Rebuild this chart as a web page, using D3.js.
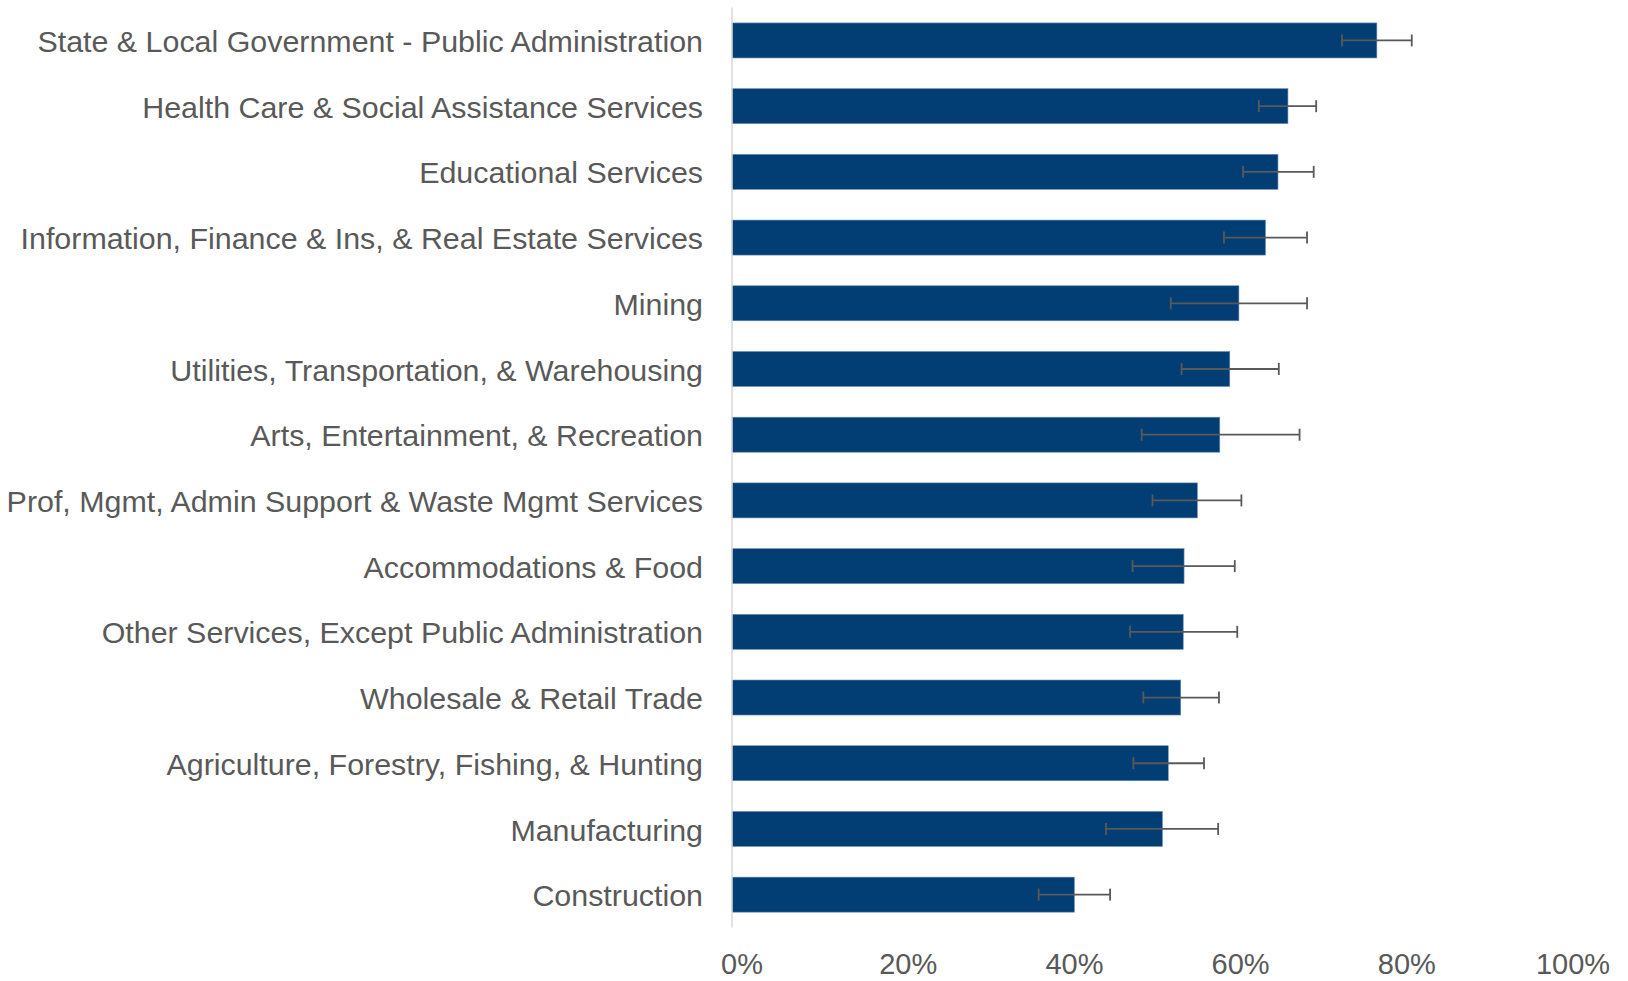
<!DOCTYPE html>
<html>
<head>
<meta charset="utf-8">
<script src="https://cdn.jsdelivr.net/npm/d3@7"></script>
<style>
  html, body { margin: 0; padding: 0; background: #fff; }
  svg text { font-family: "Liberation Sans", Arial, sans-serif; fill: #595959; }
</style>
</head>
<body>
<div id="chart"></div>
<script>
const industries = [
    "State & Local Government - Public Administration",
    "Health Care & Social Assistance Services",
    "Educational Services",
    "Information, Finance & Ins, & Real Estate Services",
    "Mining",
    "Utilities, Transportation, & Warehousing",
    "Arts, Entertainment, & Recreation",
    "Prof, Mgmt, Admin Support & Waste Mgmt Services",
    "Accommodations & Food",
    "Other Services, Except Public Administration",
    "Wholesale & Retail Trade",
    "Agriculture, Forestry, Fishing, & Hunting",
    "Manufacturing",
    "Construction"
]
const shares  = [0.776, 0.669, 0.657, 0.642, 0.610, 0.599, 0.587, 0.560, 0.544, 0.543, 0.540, 0.525, 0.518, 0.412]
const errLow  = [0.734, 0.634, 0.615, 0.592, 0.528, 0.541, 0.493, 0.506, 0.482, 0.479, 0.495, 0.483, 0.450, 0.369]
const errHigh = [0.818, 0.703, 0.700, 0.692, 0.692, 0.658, 0.683, 0.613, 0.605, 0.608, 0.586, 0.568, 0.585, 0.455]
const xTicks  = [0, 0.2, 0.4, 0.6, 0.8, 1.0]

const W = 1628, H = 981
const plot = { left: 732, right: 1563, top: 7.6, bottom: 927.5 }

const rows = industries.map((name, i) => ({name, v: shares[i], lo: errLow[i], hi: errHigh[i]}))

const svg = d3.select("#chart")
    .append("svg")
    .attr("width", W)
    .attr("height", H)

const xScale = d3.scaleLinear()
    .domain([0, 1])
    .range([plot.left, plot.right])

const yScale = d3.scaleBand()
    .domain(industries)
    .range([plot.top, plot.bottom])
    .paddingInner(0.467)
    .paddingOuter(0.2335)

// bars
svg.selectAll("rect.bar")
    .data(rows)
    .join("rect")
    .attr("class", "bar")
    .attr("x", xScale(0))
    .attr("y", d => yScale(d.name))
    .attr("width", d => xScale(d.v) - xScale(0))
    .attr("height", yScale.bandwidth())
    .attr("fill", "#023e73")
    .attr("stroke", "#6d8fb0")
    .attr("stroke-width", 0.6)

// vertical axis line
svg.append("line")
    .attr("x1", plot.left).attr("x2", plot.left)
    .attr("y1", plot.top).attr("y2", plot.bottom)
    .attr("stroke", "#d9d9d9")
    .attr("stroke-width", 1.5)

// error bars
const cy = d => yScale(d.name) + yScale.bandwidth() / 2
const err = svg.selectAll("g.err")
    .data(rows)
    .join("g")
    .attr("class", "err")
    .attr("stroke", "#595959")
    .attr("stroke-width", 1.8)

err.append("line")
    .attr("x1", d => xScale(d.lo)).attr("x2", d => xScale(d.hi))
    .attr("y1", cy).attr("y2", cy)
err.append("line")
    .attr("x1", d => xScale(d.lo)).attr("x2", d => xScale(d.lo))
    .attr("y1", d => cy(d) - 6).attr("y2", d => cy(d) + 6)
err.append("line")
    .attr("x1", d => xScale(d.hi)).attr("x2", d => xScale(d.hi))
    .attr("y1", d => cy(d) - 6).attr("y2", d => cy(d) + 6)

// category labels
const yAxis = d3.axisLeft(yScale)
    .tickSize(0)
    .tickPadding(29)

const gy = svg.append("g")
    .attr("transform", `translate(${plot.left},0)`)
    .call(yAxis)
gy.select(".domain").remove()
gy.selectAll("text")
    .attr("font-size", 30.4)
    .attr("font-family", "Liberation Sans, Arial, sans-serif")
    .attr("fill", "#595959")
    .attr("dy", "0.38em")

// percent labels
svg.selectAll("text.xtick")
    .data(xTicks)
    .join("text")
    .attr("class", "xtick")
    .attr("x", d => xScale(d) + 10)
    .attr("y", 974)
    .attr("text-anchor", "middle")
    .attr("font-size", 29)
    .text(d3.format(".0%"))
</script>
</body>
</html>
